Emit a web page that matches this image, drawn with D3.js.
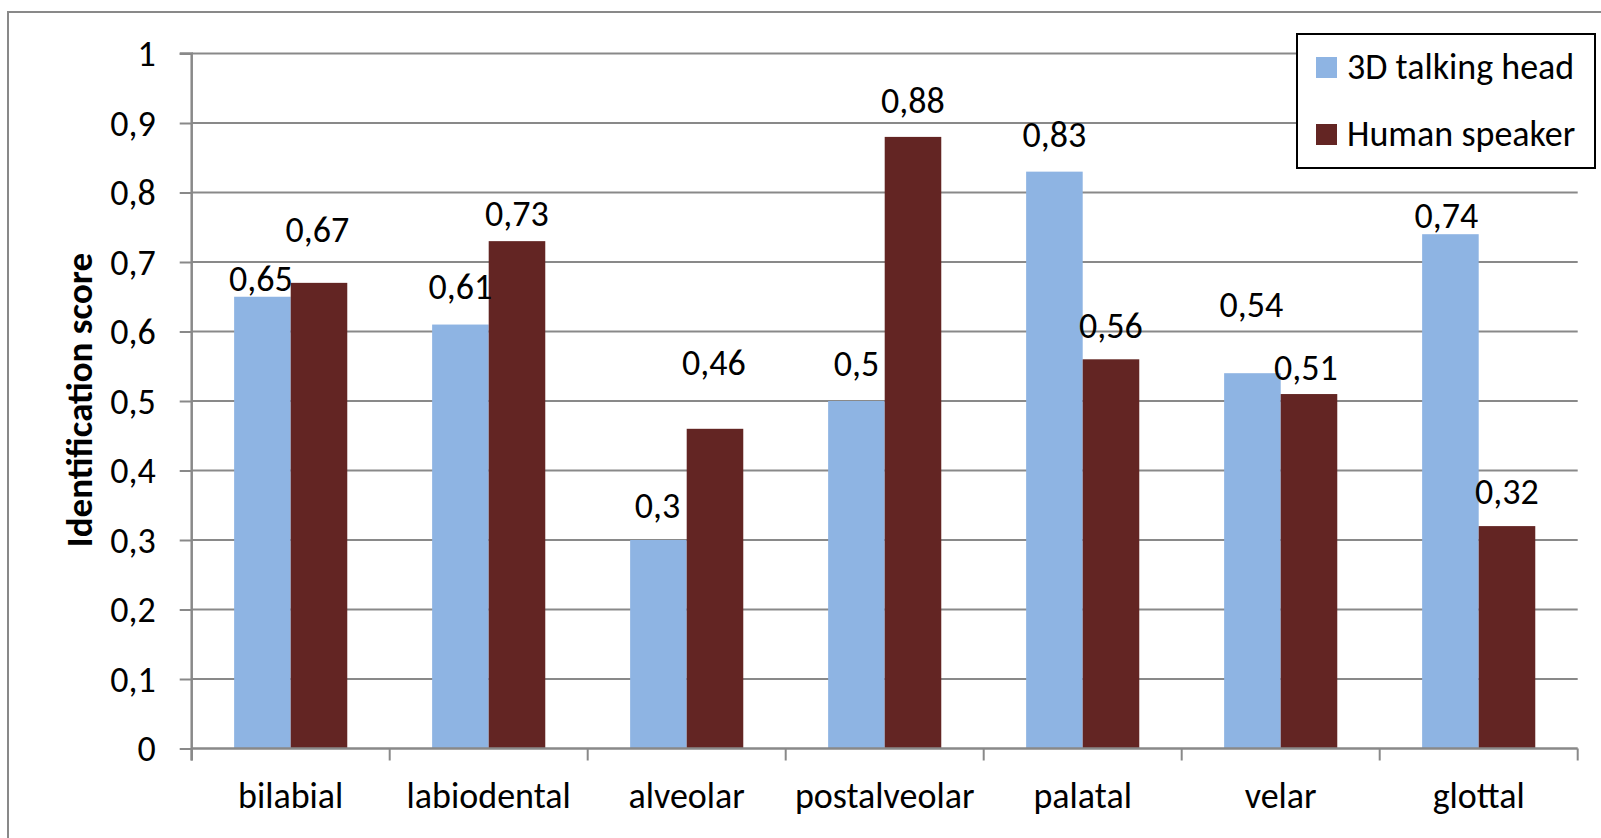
<!DOCTYPE html>
<html>
<head>
<meta charset="utf-8">
<script src="https://cdn.jsdelivr.net/npm/d3@7"></script>
<style>
  html, body { margin: 0; padding: 0; background: #fff; }
  svg { display: block; }
  text { font-family: Calibri, Carlito, Lato, sans-serif; fill: #000; }
</style>
</head>
<body>
<svg id="chart" width="1601" height="838"></svg>
<script>
// Identification scores per place of articulation
const categories = ["bilabial", "labiodental", "alveolar", "postalveolar", "palatal", "velar", "glottal"];
const seriesNames = ["3D talking head", "Human speaker"];
const talkingHead = [0.65, 0.61, 0.3, 0.5, 0.83, 0.54, 0.74];
const humanSpeaker = [0.67, 0.73, 0.46, 0.88, 0.56, 0.51, 0.32];
const yTicks = [0, 0.1, 0.2, 0.3, 0.4, 0.5, 0.6, 0.7, 0.8, 0.9, 1];
const yTitle = "Identification score";

// Vertical placement of the value labels above each bar (px, label centre relative to bar top)
const labelLift = [
  [-18.5, -38, -35, -37.5, -37.5, -69, -19],
  [-53, -27.5, -66, -37, -33.5, -26.5, -35]
];
const labelShift = [
  [-1.5, 0, -1, 0, 0, -1, -4],
  [-1.5, 0, -1, 0, 0, -3, 0]
];

const colors = ["#8EB4E3", "#632523"];
const gridColor = "#898989";
const fontSize = 36;

const svg = d3.select("#chart");

// outer chart-area frame
svg.append("rect")
  .attr("x", 8).attr("y", 12)
  .attr("width", 1700).attr("height", 900)
  .attr("fill", "#fff")
  .attr("stroke", gridColor).attr("stroke-width", 2);

const plot = { left: 191.7, right: 1577.7, top: 53.5, bottom: 748.5 };

const x0 = d3.scaleBand().domain(categories).range([plot.left, plot.right]).padding(0);
const x1 = d3.scaleBand().domain(seriesNames).range([0, x0.bandwidth()])
  .paddingInner(0).paddingOuter(0.75);
const y = d3.scaleLinear().domain([0, 1]).range([plot.bottom, plot.top]);

const fmt = v => String(+v.toFixed(2)).replace(".", ",");

// horizontal gridlines
svg.append("g")
  .selectAll("line")
  .data(yTicks.filter(t => t > 0))
  .join("line")
  .attr("x1", plot.left).attr("x2", plot.right)
  .attr("y1", d => y(d)).attr("y2", d => y(d))
  .attr("stroke", gridColor).attr("stroke-width", 2);

// bars
const series = [talkingHead, humanSpeaker];
series.forEach((vals, si) => {
  svg.append("g")
    .selectAll("rect")
    .data(vals)
    .join("rect")
    .attr("x", (d, i) => x0(categories[i]) + x1(seriesNames[si]))
    .attr("y", d => y(d))
    .attr("width", x1.bandwidth())
    .attr("height", d => y(0) - y(d))
    .attr("fill", colors[si]);
});

// y axis
const yAxis = d3.axisLeft(y).tickValues(yTicks).tickFormat(fmt).tickSize(12).tickPadding(24);
const gy = svg.append("g").attr("transform", `translate(${plot.left},0)`).call(yAxis);
gy.select(".domain").attr("stroke", gridColor).attr("stroke-width", 2.5)
  .attr("d", `M-12,${plot.top}H0V${plot.bottom + 12}`);
gy.selectAll(".tick line").attr("stroke", gridColor).attr("stroke-width", 2);
gy.selectAll(".tick text")
  .attr("font-size", fontSize).attr("font-family", null).attr("fill", "#000")
  .attr("dy", "0.34em");

// x axis with ticks on category boundaries
const gx = svg.append("g").attr("transform", `translate(0,${plot.bottom})`);
gx.append("line")
  .attr("x1", plot.left).attr("x2", plot.right)
  .attr("stroke", gridColor).attr("stroke-width", 2.5);
const boundaries = categories.map(c => x0(c)).concat([plot.right]);
gx.selectAll("line.tk")
  .data(boundaries)
  .join("line").attr("class", "tk")
  .attr("x1", d => d).attr("x2", d => d)
  .attr("y1", 0).attr("y2", 12)
  .attr("stroke", gridColor).attr("stroke-width", 2);
gx.selectAll("text")
  .data(categories)
  .join("text")
  .attr("x", d => x0(d) + x0.bandwidth() / 2)
  .attr("y", 59.5)
  .attr("text-anchor", "middle")
  .attr("font-size", fontSize)
  .text(d => d);

// value labels
series.forEach((vals, si) => {
  svg.append("g")
    .selectAll("text")
    .data(vals)
    .join("text")
    .attr("x", (d, i) => x0(categories[i]) + x1(seriesNames[si]) + x1.bandwidth() / 2 + labelShift[si][i])
    .attr("y", (d, i) => y(d) + labelLift[si][i])
    .attr("dy", "0.35em")
    .attr("text-anchor", "middle")
    .attr("font-size", fontSize)
    .text(d => fmt(d));
});

// y axis title
svg.append("text")
  .attr("transform", `translate(92,400) rotate(-90)`)
  .attr("text-anchor", "middle")
  .attr("font-size", 37)
  .attr("font-weight", "bold")
  .text(yTitle);

// legend
const lg = svg.append("g");
lg.append("rect")
  .attr("x", 1297).attr("y", 34)
  .attr("width", 298).attr("height", 134)
  .attr("fill", "#fff").attr("stroke", "#000").attr("stroke-width", 2);
seriesNames.forEach((name, i) => {
  const cy = 67.5 + i * 67;
  lg.append("rect")
    .attr("x", 1316).attr("y", cy - 10.5)
    .attr("width", 21).attr("height", 21)
    .attr("fill", colors[i]);
  lg.append("text")
    .attr("x", 1347).attr("y", cy + 11)
    .attr("font-size", fontSize)
    .text(name);
});
</script>
</body>
</html>
